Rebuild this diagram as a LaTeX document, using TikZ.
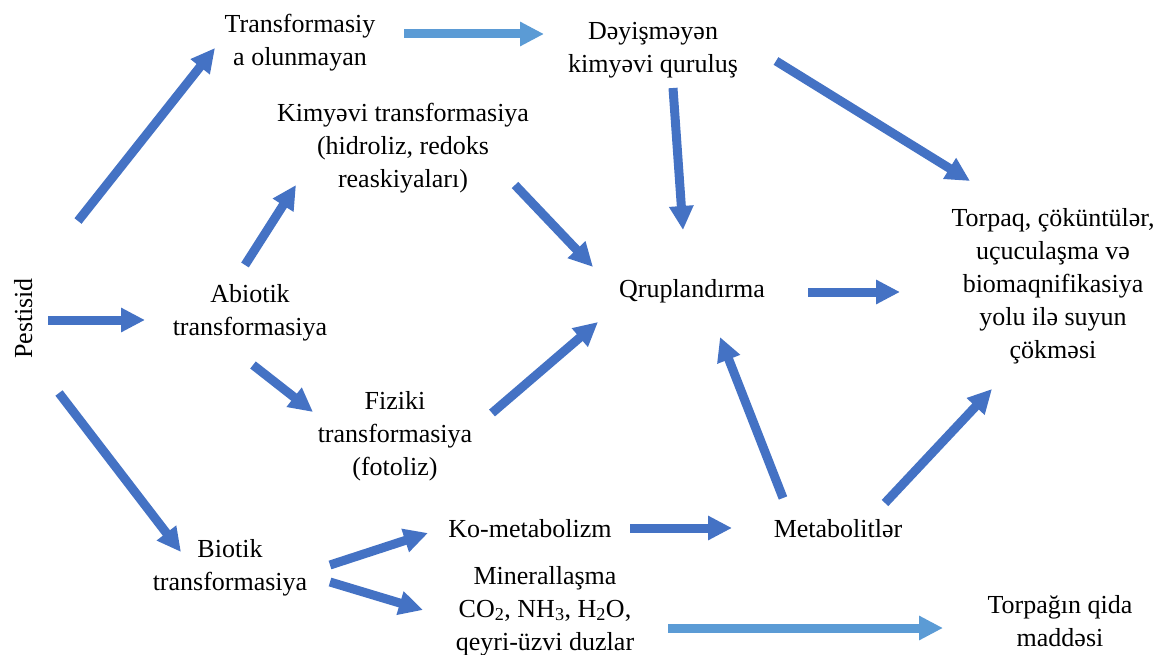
\documentclass[tikz,border=0pt]{standalone}
\usepackage{fontspec}
\setmainfont{Liberation Serif}
\usetikzlibrary{arrows.meta}
\definecolor{dblue}{HTML}{4472C4}
\definecolor{lblue}{HTML}{5B9BD5}
\begin{document}
\begin{tikzpicture}[x=1pt,y=-1pt,
  lbl/.style={align=center, inner sep=0pt, font=\fontsize{26}{33}\selectfont},
  arr/.style={draw=dblue, line width=9pt, -{Triangle[length=24pt,width=23pt]}},
  larr/.style={arr, draw=lblue}]
\useasboundingbox (0,0) rectangle (1167,655);
% nodes
\node[lbl, rotate=90] (pest) at (25.4,318.5) {\strut Pestisid};
\node[lbl] (tr)  at (300,42)    {\strut Transformasiy\\a olunmayan\strut};
\node[lbl] (dey) at (653,49)    {\strut Dəyişməyən\\kimyəvi quruluş\strut};
\node[lbl] (kim) at (403,148.4) {\strut Kimyəvi transformasiya\\(hidroliz, redoks\\reaskiyaları)\strut};
\node[lbl] (tor) at (1053,285.4) {\strut Torpaq, çöküntülər,\\uçuculaşma və\\biomaqnifikasiya\\yolu ilə suyun\\çökməsi\strut};
\node[lbl] (abi) at (250,312)   {\strut Abiotik\\transformasiya\strut};
\node[lbl] (qru) at (692,290.4) {\strut Qruplandırma};
\node[lbl] (fiz) at (395,435.4) {\strut Fiziki\\transformasiya\\(fotoliz)\strut};
\node[lbl] (bio) at (230,567)   {\strut Biotik\\transformasiya\strut};
\node[lbl] (ko)  at (530,530.4) {\strut Ko-metabolizm};
\node[lbl] (met) at (838,530.4) {\strut Metabolitlər};
\node[lbl] (min) at (545,610.4) {\strut Minerallaşma\\CO\textsubscript{2}, NH\textsubscript{3}, H\textsubscript{2}O,\\qeyri-üzvi duzlar\strut};
\node[lbl] (tq)  at (1060,623)  {\strut Torpağın qida\\maddəsi\strut};
% connectors
\draw[arr]  ([shift={(52.6,-97.5)}]pest.center) -- ([shift={(-85,6)}]tr.center);
\draw[arr]  ([shift={(22.6,1.5)}]pest.center)   -- ([shift={(-105,8)}]abi.center);
\draw[arr]  ([shift={(33.6,74.5)}]pest.center)  -- ([shift={(-49,-15)}]bio.center);
\draw[arr]  ([shift={(-5,-47)}]abi.center)      -- ([shift={(-107,36.6)}]kim.center);
\draw[arr]  ([shift={(3,53)}]abi.center)        -- ([shift={(-82,-23.4)}]fiz.center);
\draw[larr] ([shift={(104,-8)}]tr.center)       -- ([shift={(-109,-15)}]dey.center);
\draw[arr]  ([shift={(112,36.6)}]kim.center)    -- ([shift={(-99,-23.4)}]qru.center);
\draw[arr]  ([shift={(97,-22.4)}]fiz.center)    -- ([shift={(-94,31.6)}]qru.center);
\draw[arr]  ([shift={(20,39)}]dey.center)       -- ([shift={(-9,-60.4)}]qru.center);
\draw[arr]  ([shift={(123,12)}]dey.center)      -- ([shift={(-83,-104.4)}]tor.center);
\draw[arr]  ([shift={(116,1.6)}]qru.center)     -- ([shift={(-153,6.6)}]tor.center);
\draw[arr]  ([shift={(-55,-32.4)}]met.center)   -- ([shift={(28,46.6)}]qru.center);
\draw[arr]  ([shift={(47,-27.4)}]met.center)    -- ([shift={(-61,103.6)}]tor.center);
\draw[arr]  ([shift={(100,-2)}]bio.center)      -- ([shift={(-102,2.6)}]ko.center);
\draw[arr]  ([shift={(100,15)}]bio.center)      -- ([shift={(-122,-0.4)}]min.center);
\draw[arr]  ([shift={(100,-2.4)}]ko.center)     -- ([shift={(-106,-2.4)}]met.center);
\draw[larr] ([shift={(123,17.6)}]min.center)    -- ([shift={(-117,5)}]tq.center);
\end{tikzpicture}
\end{document}
